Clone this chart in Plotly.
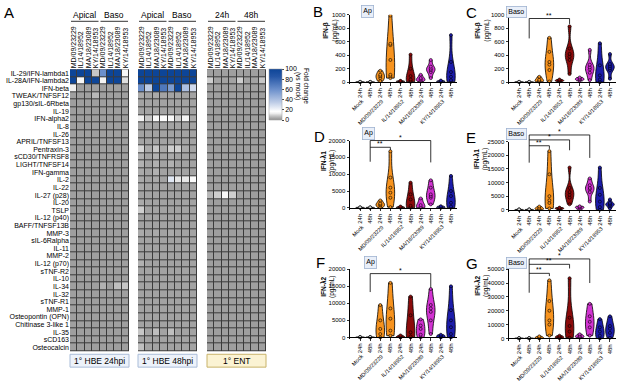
import plotly.graph_objects as go

W, H = 617, 381
FONT = "Liberation Sans, Arial, sans-serif"

# ---------------- DATA ----------------
cytokines = [
    "IL-29/IFN-lambda1", "IL-28A/IFN-lambda2", "IFN-beta", "TWEAK/TNFSF12",
    "gp130/sIL-6Rbeta", "IL-19", "IFN-alpha2", "IL-8", "IL-26", "APRIL/TNFSF13",
    "Pentraxin-3", "sCD30/TNFRSF8", "LIGHT/TNFSF14", "IFN-gamma", "IL-2", "IL-22",
    "IL-27 (p28)", "IL-20", "TSLP", "IL-12 (p40)", "BAFF/TNFSF13B", "MMP-3",
    "sIL-6Ralpha", "IL-11", "MMP-2", "IL-12 (p70)", "sTNF-R2", "IL-10", "IL-34",
    "IL-32", "sTNF-R1", "MMP-1", "Osteopontin (OPN)", "Chitinase 3-like 1",
    "IL-35", "sCD163", "Osteocalcin",
]
strains = ["MD/09/23229", "IL/14/18952", "MA/18/23089", "KY/14/18953"]
heat_cols = strains + strains
block_titles = ["1° HBE 24hpi", "1° HBE 48hpi", "1° ENT"]
block_groups = [["Apical", "Baso"], ["Apical", "Baso"], ["24h", "48h"]]

fc_hbe24 = [
    [100, 100, 100, 8, 60, 100, 100, 15],
    [100, 15, 100, 100, 14, 100, 100, 11],
    [13, 2, 2, 2, 2, 2, 2, 2],
    [2, 2, 2, 6, 2, 2, 2, 2],
    [2, 2, 2, 2, 2, 2, 2, 2],
    [2, 2, 2, 2, 2, 2, 2, 2],
    [2, 2, 2, 2, 2, 2, 2, 2],
    [2, 2, 2, 2, 2, 2, 2, 2],
    [2, 2, 2, 2, 2, 2, 2, 2],
    [2, 2, 2, 2, 2, 2, 2, 2],
    [2, 2, 2, 2, 2, 2, 2, 2],
    [2, 2, 2, 2, 2, 2, 2, 2],
    [2, 2, 2, 2, 2, 2, 2, 2],
    [2, 2, 2, 2, 2, 2, 2, 2],
    [2, 2, 2, 2, 2, 2, 2, 2],
    [2, 2, 2, 2, 2, 2, 2, 2],
    [2, 2, 2, 2, 2, 2, 2, 2],
    [2, 2, 2, 2, 2, 2, 2, 2],
    [2, 2, 2, 2, 2, 2, 2, 2],
    [2, 2, 2, 2, 2, 2, 2, 2],
    [2, 2, 2, 2, 2, 2, 2, 2],
    [2, 2, 2, 2, 2, 2, 2, 2],
    [2, 2, 2, 2, 2, 2, 2, 2],
    [2, 2, 2, 2, 2, 2, 2, 2],
    [2, 2, 2, 2, 2, 2, 2, 2],
    [2, 2, 2, 2, 2, 2, 2, 2],
    [2, 2, 2, 2, 2, 2, 2, 2],
    [2, 2, 2, 2, 2, 2, 2, 2],
    [2, 2, 2, 2, 5, 2, 7, 8],
    [2, 2, 2, 2, 2, 2, 2, 2],
    [2, 2, 2, 2, 2, 2, 2, 2],
    [2, 2, 2, 2, 2, 2, 2, 2],
    [2, 2, 2, 2, 2, 2, 2, 2],
    [2, 2, 2, 2, 2, 2, 2, 2],
    [2, 2, 2, 2, 2, 2, 2, 2],
    [2, 2, 2, 2, 2, 2, 2, 2],
    [2, 2, 2, 2, 2, 2, 2, 2],
]
fc_hbe48 = [
    [100, 100, 100, 100, 100, 100, 100, 100],
    [100, 100, 100, 100, 100, 100, 100, 100],
    [60, 35, 100, 70, 55, 100, 40, 30],
    [4, 3, 4, 3, 3, 3, 3, 3],
    [3, 3, 3, 3, 3, 3, 3, 3],
    [3, 3, 3, 3, 3, 3, 3, 3],
    [14, 8, 15, 16, 15, 9, 14, 4],
    [3, 3, 3, 3, 3, 3, 3, 3],
    [3, 3, 3, 3, 3, 3, 3, 3],
    [3, 3, 3, 3, 3, 3, 3, 3],
    [10, 4, 8, 4, 9, 9, 4, 3],
    [5, 3, 5, 3, 4, 3, 3, 3],
    [5, 3, 5, 3, 5, 3, 3, 3],
    [4, 3, 5, 3, 3, 3, 3, 3],
    [4, 3, 4, 3, 25, 12, 12, 16],
    [4, 3, 3, 3, 3, 3, 3, 3],
    [3, 3, 3, 3, 3, 3, 3, 3],
    [4, 3, 3, 3, 3, 3, 3, 3],
    [9, 3, 3, 3, 3, 3, 3, 3],
    [3, 3, 3, 3, 3, 3, 3, 3],
    [3, 3, 3, 3, 3, 3, 3, 3],
    [4, 3, 4, 3, 4, 3, 3, 3],
    [3, 3, 3, 3, 3, 3, 3, 3],
    [3, 3, 3, 3, 3, 3, 3, 3],
    [3, 3, 3, 3, 3, 3, 3, 3],
    [5, 3, 3, 3, 3, 3, 3, 3],
    [3, 3, 3, 3, 3, 3, 3, 3],
    [3, 3, 3, 3, 3, 3, 3, 3],
    [3, 3, 3, 3, 3, 3, 3, 3],
    [3, 3, 3, 3, 3, 3, 3, 3],
    [3, 3, 3, 3, 3, 3, 3, 3],
    [3, 3, 3, 3, 3, 3, 3, 3],
    [3, 3, 3, 3, 3, 3, 3, 3],
    [3, 3, 3, 3, 3, 3, 3, 3],
    [8, 3, 7, 3, 7, 3, 3, 3],
    [3, 3, 3, 3, 3, 3, 3, 3],
    [7, 3, 3, 3, 3, 3, 3, 3],
]
fc_ent = [
    [2, 2, 2, 2, 2, 2, 2, 2],
    [9, 3, 3, 3, 9, 3, 3, 8],
] + [[2, 2, 2, 2, 2, 2, 2, 2] for _ in range(14)] + [
    [6, 9, 15, 9, 2, 2, 2, 2],
] + [[2, 2, 2, 2, 2, 2, 2, 2] for _ in range(20)]

virus_groups = ["Mock", "MD/09/23229", "IL/14/18952", "MA/18/23089", "KY/14/18953"]
time_labels = ["24h", "48h"]
group_colors = ["#d4d4d4", "#f7931e", "#8b0b0b", "#d233d2", "#1c1caa"]

# samples per violin: Mock24, Mock48, MD24, MD48, IL24, IL48, MA24, MA48, KY24, KY48
ifnb_ap = [
    [0, 2, 4, 6], [0, 2, 3, 5],
    [15, 60, 90, 110, 170], [60, 90, 110, 330, 550, 570, 990],
    [5, 10, 14, 20], [5, 20, 40, 90, 200, 410],
    [10, 30, 45, 60, 110], [60, 150, 180, 200, 230, 330],
    [5, 10, 15, 25], [5, 30, 80, 150, 300, 700],
]
ifnb_baso = [
    [0, 2, 4, 6], [0, 2, 3, 5],
    [5, 20, 35, 80], [10, 180, 260, 300, 450, 660],
    [10, 20, 28, 40], [120, 330, 380, 420, 500, 830],
    [20, 40, 50, 70], [30, 140, 190, 220, 260, 480],
    [0, 40, 100, 250, 580], [50, 180, 210, 240, 270, 420],
]
ifnl1_ap = [
    [0, 50, 100, 150], [0, 50, 100, 150],
    [100, 700, 1000, 1300, 2200], [200, 3000, 4500, 6000, 9000, 16800],
    [0, 100, 200, 400], [0, 200, 600, 2500, 4000, 7500],
    [0, 300, 800, 2800], [1000, 3000, 3500, 4000, 6000, 8200],
    [0, 100, 300, 500], [0, 400, 1500, 3500, 5000, 9500],
]
ifnl1_baso = [
    [0, 50, 100, 150], [0, 50, 100, 150],
    [0, 300, 600, 1200], [500, 2500, 3500, 5000, 13000, 21500],
    [100, 400, 600, 800], [2000, 4500, 5500, 6500, 8000, 15500],
    [200, 700, 1000, 1300], [3000, 6500, 7500, 8000, 9000, 11500],
    [0, 1000, 3000, 5500, 8000, 15500], [500, 1500, 1800, 2200, 2500, 3800],
]
ifnl2_ap = [
    [0, 50, 100, 150], [0, 50, 100, 150],
    [0, 1000, 2500, 5000, 9500], [500, 2000, 5500, 8500, 16000],
    [0, 100, 300, 600], [0, 300, 1500, 6500, 12000],
    [0, 800, 2500, 3500, 5300], [1000, 5000, 7500, 8500, 9500, 14200],
    [0, 200, 500, 800], [0, 1000, 3000, 5000, 8000, 15000],
]
ifnl2_baso = [
    [0, 100, 200, 300], [0, 100, 200, 300],
    [0, 300, 800, 1500], [2000, 10000, 13000, 20000, 27000, 42000],
    [200, 800, 1200, 2000], [500, 5000, 9000, 15000, 43500],
    [500, 1200, 1800, 3000], [2000, 8000, 12000, 16000, 25000],
    [0, 2000, 5000, 8000, 14000], [500, 4000, 7000, 9000, 16000],
]

# significance: (from position, to position, top, left end, right end, label)
sig_C = [(1, 5, 946, 650, 865, "**")]
sig_D = [(1, 3, 18000, 18000, 17200, "**"), (1, 7, 20000, 13700, 13500, "*")]
sig_E = [(1, 3, 23450, 23450, 22300, "**"), (1, 5, 25600, 25600, 21800, "*"),
         (1, 7, 27400, 17260, 19000, "*")]
sig_F = [(1, 7, 18700, 13300, 14600, "*")]
sig_G = [(1, 3, 47000, 47000, 45000, "**"), (1, 5, 53500, 53500, 50500, "**"),
         (1, 7, 57400, 33000, 40000, "*")]

# ---------------- HELPERS ----------------
def fx(p):
    return p / W


def fy(p):
    return 1 - p / H


def label(text, xp, yp, size, **kw):
    d = dict(text=text, x=fx(xp), y=fy(yp), xref="paper", yref="paper",
             xanchor="center", yanchor="middle", showarrow=False,
             font=dict(size=size, family=FONT, color="black"))
    d.update(kw)
    return d


fig = go.Figure()
layout = {}
shapes = []
annotations = []

# ---------------- HEATMAP (A) ----------------
heat_x_px = [(70, 129), (138, 197), (207, 266)]
heat_y_px = (67, 352)
colorscale = [
    [0.0, "#989898"], [0.03, "#a3a3a3"], [0.08, "#c6c6c6"], [0.13, "#efefef"],
    [0.17, "#ffffff"], [0.35, "#bccbe6"], [0.6, "#6b8fcb"], [0.85, "#2556a6"],
    [1.0, "#0d4598"],
]
row_idx = list(range(len(cytokines)))
blocks = [fc_hbe24, fc_hbe48, fc_ent]
for i, mat in enumerate(blocks):
    xa = "x" if i == 0 else f"x{i+1}"
    fig.add_trace(go.Heatmap(
        z=mat, x=list(range(8)), y=row_idx, xaxis=xa, yaxis="y",
        zmin=0, zmax=100, colorscale=colorscale, xgap=1, ygap=1,
        showscale=(i == 0), hoverinfo="skip",
        colorbar=dict(
            x=fx(269), xanchor="left", xpad=0, ypad=0, thickness=13,
            lenmode="pixels", len=51, y=fy(92.5), yanchor="middle",
            tickvals=[0, 20, 40, 60, 80, 100], ticks="outside", ticklen=2,
            tickfont=dict(size=7, family=FONT, color="black"),
            outlinewidth=0.5, outlinecolor="#999",
        ),
    ))
    x0, x1 = heat_x_px[i]
    layout["xaxis" if i == 0 else f"xaxis{i+1}"] = dict(
        domain=[fx(x0), fx(x1)], anchor="y", side="top", range=[-0.5, 7.5],
        tickmode="array", tickvals=list(range(8)), ticktext=heat_cols,
        tickangle=-90, ticks="", showgrid=False, zeroline=False, showline=False,
        tickfont=dict(size=7, family=FONT, color="black"),
    )
    shapes.append(dict(type="rect", xref="paper", yref="paper", layer="below",
                       x0=fx(x0), x1=fx(x1), y0=fy(heat_y_px[1]), y1=fy(heat_y_px[0]),
                       fillcolor="#3b3b3b", line=dict(width=0)))
    cw = (x1 - x0) / 8.0
    for g, name in enumerate(block_groups[i]):
        gx0 = x0 + g * 4 * cw
        gx1 = gx0 + 4 * cw
        annotations.append(label(name, (gx0 + gx1) / 2, 12, 8.5))
        shapes.append(dict(type="line", xref="paper", yref="paper",
                           x0=fx(gx0 + 1), x1=fx(gx1 - 1), y0=fy(18.5), y1=fy(18.5),
                           line=dict(color="black", width=0.8)))
    is_ent = i == 2
    shapes.append(dict(type="rect", xref="paper", yref="paper",
                       x0=fx(x0), x1=fx(x1), y0=fy(368), y1=fy(355),
                       fillcolor="#fbf3d3" if is_ent else "#edf2fa",
                       line=dict(color="#c8b36a" if is_ent else "#a9bcd8", width=1)))
    annotations.append(label(block_titles[i], (x0 + x1) / 2, 361.5, 8.5))

layout["yaxis"] = dict(domain=[fy(heat_y_px[1]), fy(heat_y_px[0])], anchor="x",
                       range=[len(cytokines) - 0.5, -0.5], tickmode="array",
                       tickvals=row_idx, ticktext=cytokines,
                       ticks="", showgrid=False, zeroline=False,
                       tickfont=dict(size=7, family=FONT, color="black"))
annotations.append(label("Fold change<br>(vs mock)", 302, 84, 6.5, textangle=90))
annotations.append(label("A", 9, 10, 15))

# ---------------- VIOLIN PANELS ----------------
col_px = {"L": (350, 457), "R": (509, 616)}
panels = [
    ("B", "Ap", ifnb_ap, "IFN-β", 1000, 200, "L", 12, 80, (330, 28), (367, 9), (318, 9)),
    ("C", "Baso", ifnb_baso, "IFN-β", 1000, 200, "R", 12, 80, (482, 28), (516, 9), (471, 10)),
    ("D", "Ap", ifnl1_ap, "IFN-λ1", 20000, 5000, "L", 139, 207, (328, 160), (368, 132), (319, 135)),
    ("E", "Baso", ifnl1_baso, "IFN-λ1", 25000, 5000, "R", 140, 209, (481, 158), (516, 132), (471, 136)),
    ("F", "Ap", ifnl2_ap, "IFN-λ2", 20000, 5000, "L", 269, 338, (328, 287), (370, 262), (320, 262)),
    ("G", "Baso", ifnl2_baso, "IFN-λ2", 50000, 10000, "R", 269, 339, (482, 286), (516, 263), (472, 263)),
]
panel_sigs = {"C": sig_C, "D": sig_D, "E": sig_E, "F": sig_F, "G": sig_G}
xr = [-1.0, 9.6]
for k, (letter, side, data, ytitle, ymax, ystep, col, top_px, zero_px,
        tpos, bpos, lpos) in enumerate(panels):
    sigs = panel_sigs.get(letter, [])
    xi, yi = k + 4, k + 2
    pad = 0.03 * ymax
    yr = [-pad, ymax]
    bot_px = zero_px + 0.03 * (zero_px - top_px)
    xd = [fx(col_px[col][0]), fx(col_px[col][1])]
    yd = [fy(bot_px), fy(top_px)]

    def to_px_x(v, xd=xd):
        return xd[0] + (v - xr[0]) / (xr[1] - xr[0]) * (xd[1] - xd[0])

    def to_px_y(v, yd=yd, yr=yr):
        return yd[0] + (v - yr[0]) / (yr[1] - yr[0]) * (yd[1] - yd[0])

    zero_paper = to_px_y(0)
    for j, samples in enumerate(data):
        color = group_colors[j // 2]
        fig.add_trace(go.Violin(
            x=[j] * len(samples), y=samples, xaxis=f"x{xi}", yaxis=f"y{yi}",
            width=0.85, scalemode="width", spanmode="hard",
            fillcolor=color, line=dict(color="black", width=0.8),
            points="all", pointpos=0, jitter=0,
            marker=dict(size=3, color=color, line=dict(color="black", width=0.6)),
            showlegend=False, hoverinfo="skip",
        ))
    layout[f"xaxis{xi}"] = dict(
        domain=xd, anchor="free", position=zero_paper, range=xr,
        tickmode="array", tickvals=list(range(10)), ticktext=time_labels * 5,
        tickangle=-90, ticks="outside", ticklen=2.5, tickwidth=0.8, tickcolor="black",
        showline=True, linecolor="black", linewidth=1, showgrid=False, zeroline=False,
        tickfont=dict(size=6, family=FONT, color="black"),
    )
    layout[f"yaxis{yi}"] = dict(
        domain=yd, anchor=f"x{xi}", range=yr, tickmode="array",
        tickvals=list(range(0, ymax + 1, ystep)), tickformat="d",
        ticks="outside", ticklen=2.5,
        tickwidth=0.8, tickcolor="black", showline=True, linecolor="black",
        linewidth=1, showgrid=False, zeroline=False,
        tickfont=dict(size=6, family=FONT, color="black"),
    )
    for g, gname in enumerate(virus_groups):
        annotations.append(dict(
            text=gname, x=to_px_x(2 * g + 0.5 + 0.2), y=zero_paper - 13.5 / H,
            xref="paper", yref="paper", xanchor="right", yanchor="top",
            textangle=-45, showarrow=False,
            font=dict(size=5.5, family=FONT, color="black")))
    annotations.append(label(f"<b>{ytitle}</b><br>(pg/mL)", tpos[0], tpos[1], 6.5,
                             textangle=-90))
    annotations.append(label(side, bpos[0], bpos[1], 7, bgcolor="#e9eff9",
                             bordercolor="#9fb3d1", borderwidth=0.8, borderpad=1.5))
    annotations.append(label(letter, lpos[0], lpos[1], 15))
    for (a, b, ytop, yl, yrt, lab) in sigs:
        xa_, xb_ = to_px_x(a), to_px_x(b)
        path = (f"M {xa_},{to_px_y(yl)} L {xa_},{to_px_y(ytop)} "
                f"L {xb_},{to_px_y(ytop)} L {xb_},{to_px_y(yrt)}")
        shapes.append(dict(type="path", xref="paper", yref="paper", path=path,
                           line=dict(color="black", width=0.8)))
        annotations.append(dict(text=lab, x=(xa_ + xb_) / 2, y=to_px_y(ytop),
                                xref="paper", yref="paper", xanchor="center",
                                yanchor="bottom", showarrow=False, yshift=-2,
                                font=dict(size=7, family=FONT, color="black")))

fig.update_layout(
    width=W, height=H, margin=dict(l=0, r=0, t=0, b=0),
    paper_bgcolor="white", plot_bgcolor="rgba(0,0,0,0)",
    font=dict(family=FONT, color="black", size=7),
    violinmode="overlay", showlegend=False,
    shapes=shapes, annotations=annotations, **layout,
)
fig.write_html(
    "out.html",
    config={"displayModeBar": False, "staticPlot": True},
    post_script="document.body.style.margin='0';document.body.style.overflow='hidden';",
)
